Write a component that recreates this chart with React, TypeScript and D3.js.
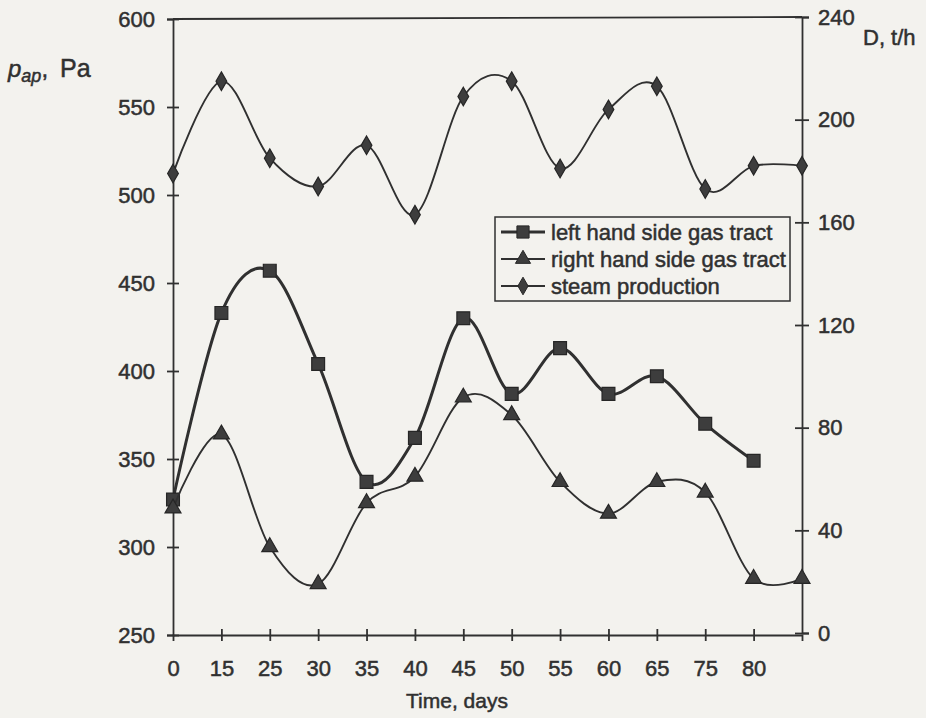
import React, { useRef, useEffect } from "react";
import * as d3 from "d3";

// x categories (days); last slot sits on the right axis and has no label
const days = ["0", "15", "25", "30", "35", "40", "45", "50", "55", "60", "65", "75", "80", ""];
// pressure drop, Pa (left axis)
const leftTract = [327, 433, 457, 404, 337, 362, 430, 387, 413, 387, 397, 370, 349];
const rightTract = [322, 364, 300, 279, 325, 340, 385, 375, 337, 319, 337, 331, 282, 282];
// steam production, t/h (right axis)
const steam = [179, 215, 185, 174, 190, 163, 209, 215, 181, 204, 213, 173, 182, 182];

const leftTicks = [250, 300, 350, 400, 450, 500, 550, 600];
const rightTicks = [0, 40, 80, 120, 160, 200, 240];

const W = 926;
const H = 718;
const ink = "#303030";
const paper = "#f3f2ee";
const font = "'Liberation Sans', Arial, sans-serif";

const Chart = () => {
  const svgRef = useRef<SVGSVGElement>(null);

  useEffect(() => {
    const svg = d3.select(svgRef.current);
    svg.selectAll("*").remove();

    const x = d3.scalePoint<number>().domain(days.map((d, i) => i)).range([173, 802]);
    const yL = d3.scaleLinear().domain([250, 600]).range([635, 19]);
    const yR = d3.scaleLinear().domain([0, 240]).range([633, 17]);

    svg.append("rect").attr("width", W).attr("height", H).attr("fill", paper);

    // frame top
    svg.append("line")
      .attr("x1", x(0)).attr("x2", x(13))
      .attr("y1", yL(600)).attr("y2", yR(240))
      .attr("stroke", ink).attr("stroke-width", 1.8);

    // left axis
    const gl = svg.append("g").attr("transform", `translate(${x(0)},0)`)
      .call(d3.axisLeft(yL).tickValues(leftTicks).tickSize(6).tickPadding(12));
    gl.selectAll(".tick line").attr("x1", 6);
    // right axis
    const gr = svg.append("g").attr("transform", `translate(${x(13)},0)`)
      .call(d3.axisRight(yR).tickValues(rightTicks).tickSize(7).tickPadding(9));
    gr.selectAll(".tick line").attr("x1", -7);
    // bottom axis
    const gb = svg.append("g").attr("transform", `translate(0,${yL(250)})`)
      .call(d3.axisBottom(x).tickSize(6).tickPadding(19).tickFormat((i) => days[i as number]));
    gb.selectAll(".tick line").attr("y1", -6);
    gb.selectAll(".tick").filter((i) => i === 0 || i === 13).select("line").remove();

    [gl, gr, gb].forEach((g) => {
      g.select(".domain").attr("stroke", ink).attr("stroke-width", 1.8);
      g.selectAll(".tick line").attr("stroke", ink).attr("stroke-width", 1.8);
      g.selectAll(".tick text")
        .attr("fill", ink).attr("stroke", ink).attr("stroke-width", 0.5)
        .style("font-family", font).style("font-size", "22px");
    });

    const plot = svg.append("g");
    const curve = d3.curveCardinal.tension(0);

    const series = [
      { vals: leftTract, y: yL, sym: d3.symbolSquare, size: 165, width: 3 },
      { vals: rightTract, y: yL, sym: d3.symbolTriangle, size: 110, width: 1.9 },
      { vals: steam, y: yR, sym: d3.symbolDiamond, size: 100, width: 1.9 },
    ];

    series.forEach((s) => {
      const line = d3.line<number>().x((d, i) => x(i)!).y((d) => s.y(d)).curve(curve);
      plot.append("path").attr("d", line(s.vals)).attr("fill", "none")
        .attr("stroke", ink).attr("stroke-width", s.width);
      plot.selectAll(null).data(s.vals).join("path")
        .attr("transform", (d, i) => `translate(${x(i)},${s.y(d)})`)
        .attr("d", d3.symbol(s.sym, s.size)())
        .attr("fill", "#3d3d3d").attr("stroke", "#262626").attr("stroke-width", 1.2);
    });

    // legend
    const lg = svg.append("g");
    lg.append("rect").attr("x", 495).attr("y", 217).attr("width", 295).attr("height", 84)
      .attr("fill", paper).attr("stroke", ink).attr("stroke-width", 1.5);
    const names = ["left hand side gas tract", "right hand side gas tract", "steam production"];
    names.forEach((n, k) => {
      const cy = 232 + k * 27;
      const s = series[k];
      lg.append("line").attr("x1", 501).attr("x2", 545).attr("y1", cy).attr("y2", cy)
        .attr("stroke", ink).attr("stroke-width", s.width);
      lg.append("path").attr("transform", `translate(523,${cy})`)
        .attr("d", d3.symbol(s.sym, s.size * 0.9)())
        .attr("fill", "#3d3d3d").attr("stroke", "#262626");
      lg.append("text").attr("x", 551).attr("y", cy + 8).text(n)
        .attr("fill", ink).attr("stroke", ink).attr("stroke-width", 0.5)
        .style("font-family", font).style("font-size", "22px");
    });

    // axis titles
    const title = (t: d3.Selection<SVGTextElement, unknown, null, undefined>) =>
      t.attr("fill", ink).attr("stroke", ink).attr("stroke-width", 0.5).style("font-family", font);
    svg.append("text").attr("x", 457).attr("y", 708).attr("text-anchor", "middle")
      .call(title).style("font-size", "21px").text("Time, days");
    svg.append("text").attr("x", 863).attr("y", 45)
      .call(title).style("font-size", "22px").text("D, t/h");
    const yt = svg.append("text").attr("x", 8).attr("y", 77)
      .call(title).style("font-size", "24px");
    yt.append("tspan").style("font-style", "italic").text("p");
    yt.append("tspan").style("font-style", "italic").style("font-size", "18px").attr("dy", 5).text("ap");
    yt.append("tspan").attr("dy", -5).text(",");
    yt.append("tspan").attr("dx", 12).style("font-size", "25px").text("Pa");
  }, []);

  return <svg ref={svgRef} width={W} height={H} style={{ position: "absolute", left: 0, top: 0 }} />;
};

export default function App() {
  return <Chart />;
}
